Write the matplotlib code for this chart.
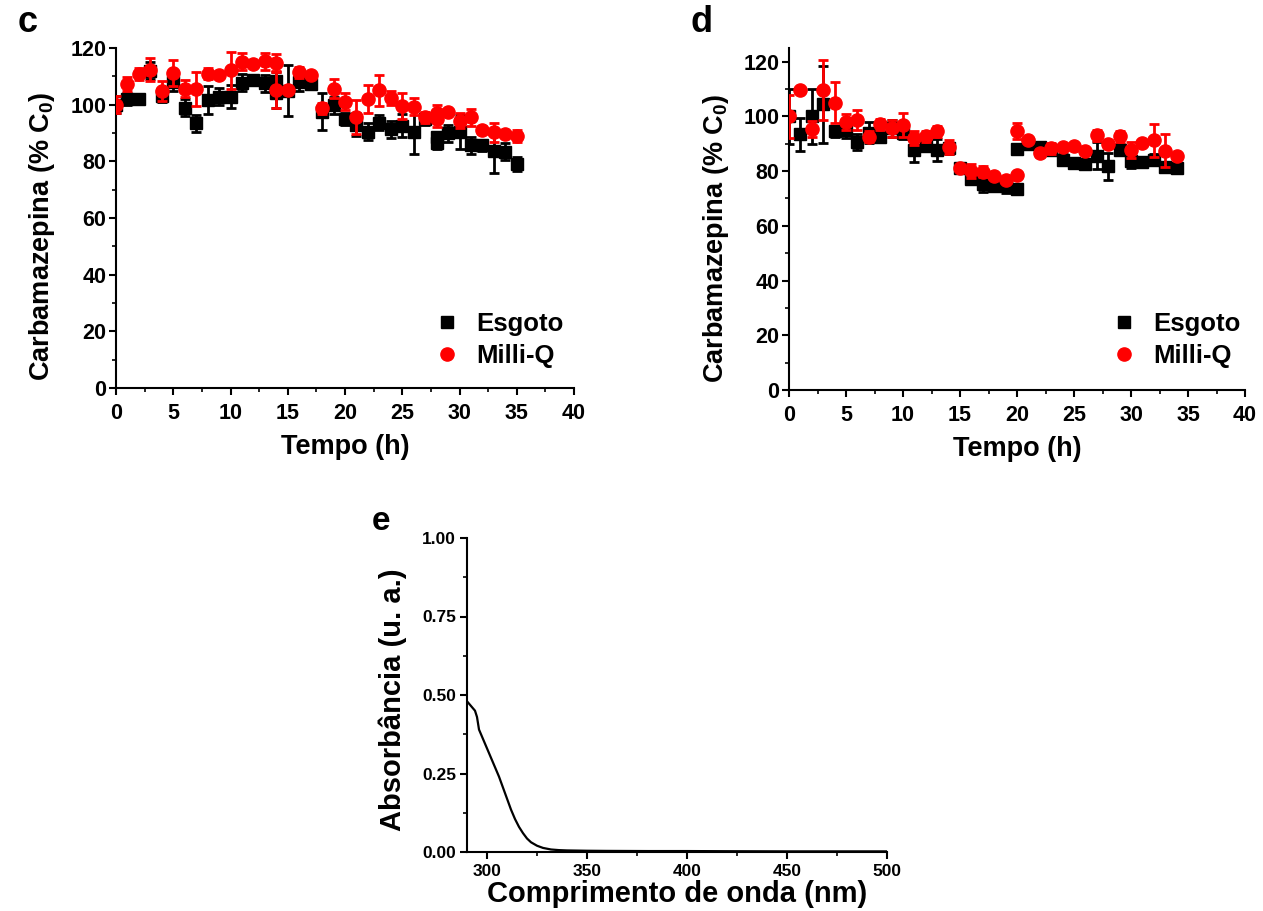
import matplotlib
matplotlib.use("Agg")
import matplotlib.pyplot as plt
from matplotlib.ticker import MultipleLocator

plt.rcParams["font.family"] = ["Liberation Sans", "DejaVu Sans"]
plt.rcParams["font.weight"] = "bold"
plt.rcParams["mathtext.fontset"] = "custom"
plt.rcParams["mathtext.rm"] = "Liberation Sans:bold"
plt.rcParams["mathtext.it"] = "Liberation Sans:bold"
plt.rcParams["mathtext.bf"] = "Liberation Sans:bold"

# panel c: carbamazepina vs tempo (duplicated readings at 14 h and 28 h)
t_c = [0, 1, 2, 3, 4, 5, 6, 7, 8, 9, 10, 11, 12, 13, 14, 14, 15, 16, 17, 18, 19,
       20, 21, 22, 23, 24, 25, 26, 27, 28, 28, 29, 30, 31, 32, 33, 34, 35]
esgoto_c = [100, 102, 102, 112, 103, 108, 99, 93.5, 101.6, 102.8, 102.8, 107.8, 108.7,
            107.5, 108.5, 104, 105, 108, 107.3, 97.5, 99.8, 95, 93, 90.5, 93.7, 91.3,
            92.6, 90.5, 95, 88.5, 86.5, 90, 90.5, 85.6, 85.6, 83.5, 83.3, 79.2]
esgoto_c_err = [3, 2, 0.5, 3, 2, 3, 3, 3, 5, 3, 4, 3, 1, 3, 3, 5, 9, 3, 1, 6.5, 3, 2,
                4, 3, 2.5, 3, 4, 8, 2, 2, 2, 3, 6, 3, 2, 7.5, 3, 2.5]
milliq_c = [100, 107.3, 110.8, 112.4, 104.8, 111.2, 105.7, 105.4, 111, 110.4, 112.2,
            115.1, 114.5, 115.3, 114.8, 105.2, 105.2, 111.4, 110.4, 98.7, 105.7, 101,
            95.5, 101.9, 105.1, 102.5, 99.5, 99.3, 95.5, 97, 95, 97.5, 94.4, 95.5, 91.1,
            90.2, 89.7, 89]
milliq_c_err = [3, 2.5, 2, 4, 3.5, 4.5, 3, 6, 2, 1, 6.5, 3, 1, 3, 3, 6.5, 1, 2, 1, 2,
                3.5, 3, 6, 5, 5.5, 2.5, 4.5, 3, 2, 3, 3, 1, 2.5, 3, 1.5, 3.5, 1, 2]

# panel d (duplicated reading at 20 h)
t_d = [0, 1, 2, 3, 4, 5, 6, 7, 8, 9, 10, 11, 12, 13, 14, 15, 16, 17, 18, 19, 20, 20,
       21, 22, 23, 24, 25, 26, 27, 28, 29, 30, 31, 32, 33, 34]
esgoto_d = [100, 93.5, 100, 104.4, 94.5, 95, 90.7, 94.1, 92.6, 95.6, 93.8, 87.9, 89.3,
            87.7, 88.3, 81, 77.3, 75.2, 74.5, 74.5, 73.3, 88, 90, 88.8, 87.9, 84.2, 83,
            82.6, 85.7, 81.8, 87.8, 83.6, 83.4, 84.2, 81.6, 81.3]
esgoto_d_err = [10, 6, 10, 14, 2, 3, 3, 4, 2, 3, 2, 4.5, 2, 4, 2, 1, 2, 3, 1, 2.5, 1,
                1, 1, 1, 2, 2, 1, 1.5, 5, 5, 2, 2.5, 1, 2, 1, 1]
milliq_d = [100, 109.7, 95.5, 109.7, 105, 98, 98.7, 92.6, 97.2, 95.6, 96.8, 92.2, 92.8,
            94.6, 88.9, 81, 80.1, 79.7, 78.1, 76.9, 78.6, 94.6, 91.2, 86.6, 88.3, 88.9,
            89.2, 87.3, 93.1, 90, 92.8, 87.7, 90.1, 91.3, 87.4, 85.5]
milliq_d_err = [8, 1, 3, 11, 7.5, 3, 3.5, 2, 2, 3, 4.5, 2.5, 2, 2, 2.5, 1, 2.5, 2, 1, 1,
                1, 3, 1, 1.5, 2, 1, 1, 1, 2, 1.5, 2, 3, 1, 6, 6, 1]

# panel e: UV spectrum
wavelength = [290, 292, 294, 295, 296, 298, 300, 302, 304, 306, 308, 310, 312, 314,
              316, 318, 320, 322, 325, 328, 332, 336, 340, 350, 360, 380, 400, 420,
              450, 480, 500]
absorbance = [0.48, 0.465, 0.45, 0.43, 0.39, 0.36, 0.33, 0.30, 0.27, 0.24, 0.205, 0.17,
              0.135, 0.105, 0.08, 0.06, 0.043, 0.031, 0.020, 0.013, 0.008, 0.006, 0.005,
              0.004, 0.0035, 0.003, 0.003, 0.0025, 0.002, 0.002, 0.002]

labels = ["Esgoto", "Milli-Q"]
W, H = 1263, 911


def style_axes(ax, tick_size, xpad, ypad):
    for side in ("top", "right"):
        ax.spines[side].set_visible(False)
    for side in ("left", "bottom"):
        ax.spines[side].set_linewidth(1.5)
    ax.tick_params(which="major", direction="out", length=5, width=1.5,
                   labelsize=tick_size)
    ax.tick_params(axis="x", which="major", pad=xpad)
    ax.tick_params(axis="y", which="major", pad=ypad)
    ax.tick_params(which="minor", direction="out", length=3, width=1.2)
    for lab in ax.get_xticklabels() + ax.get_yticklabels():
        lab.set_fontweight("bold")


def time_panel(rect, t, esg, esg_err, mq, mq_err, ymax, letter, letter_pos, leg_xy):
    ax = fig.add_axes(rect)
    eb1 = ax.errorbar(t, esg, yerr=esg_err, fmt="s", color="black", ms=8,
                      elinewidth=2, capsize=3.5, capthick=2, zorder=3)
    eb2 = ax.errorbar(t, mq, yerr=mq_err, fmt="o", color="#ff0000", ms=9.5,
                      elinewidth=2, capsize=3.5, capthick=2, zorder=4)
    ax.set_xlim(0, 40)
    ax.set_ylim(0, ymax)
    ax.xaxis.set_major_locator(MultipleLocator(5))
    ax.xaxis.set_minor_locator(MultipleLocator(2.5))
    ax.yaxis.set_major_locator(MultipleLocator(20))
    ax.yaxis.set_minor_locator(MultipleLocator(10))
    style_axes(ax, 15.5, 6, 2)
    ax.set_xlabel("Tempo (h)", fontsize=19.5, fontweight="bold", labelpad=7)
    ax.set_ylabel(r"Carbamazepina (% C$_{0}$)", fontsize=19.5, fontweight="bold")
    ax.yaxis.set_label_coords(-0.128, 0.445)
    ax.legend([eb1[0], eb2[0]], labels, loc="lower left", frameon=False,
              fontsize=18.5, handlelength=1.0, handletextpad=0.65,
              labelspacing=0.3, borderpad=0, borderaxespad=0,
              bbox_to_anchor=leg_xy)
    fig.text(letter_pos[0] / W, 1 - letter_pos[1] / H, letter, fontsize=26,
             fontweight="bold", va="center", ha="left")
    return ax


fig = plt.figure(figsize=(W / 100, H / 100), dpi=100)

time_panel([116 / W, 1 - 388 / H, 458 / W, 340 / H], t_c, esgoto_c, esgoto_c_err,
           milliq_c, milliq_c_err, 120, "c", (18, 22), (0.694, 0.06))
time_panel([789 / W, 1 - 390 / H, 456 / W, 342 / H], t_d, esgoto_d, esgoto_d_err,
           milliq_d, milliq_d_err, 125, "d", (690, 22), (0.706, 0.064))

ax_e = fig.add_axes([467 / W, 1 - 852 / H, 420 / W, 314 / H])
ax_e.plot(wavelength, absorbance, color="black", lw=1.6)
ax_e.set_xlim(290, 500)
ax_e.set_ylim(0, 1.0)
ax_e.xaxis.set_major_locator(MultipleLocator(50))
ax_e.xaxis.set_minor_locator(MultipleLocator(25))
ax_e.yaxis.set_major_locator(MultipleLocator(0.25))
ax_e.yaxis.set_minor_locator(MultipleLocator(0.125))
ax_e.yaxis.set_major_formatter(plt.FormatStrFormatter("%.2f"))
style_axes(ax_e, 12.5, 4, 3)
ax_e.set_xlabel("Comprimento de onda (nm)", fontsize=21, fontweight="bold", labelpad=0)
ax_e.set_ylabel("Absorbância (u. a.)", fontsize=21, fontweight="bold")
ax_e.yaxis.set_label_coords(-0.143, 0.484)
fig.text(372 / W, 1 - 522 / H, "e", fontsize=24, fontweight="bold", va="center",
         ha="left")

fig.savefig("out.png", dpi=100)
